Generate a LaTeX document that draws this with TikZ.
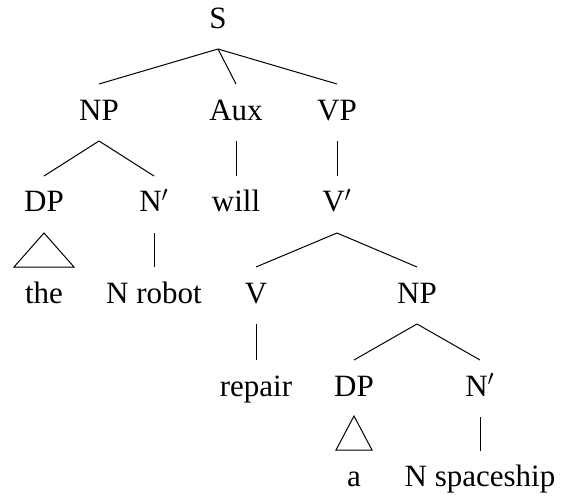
\documentclass[tikz,border=0pt]{standalone}
\newif\ifpala
\IfFileExists{mathpazo.sty}{\IfFileExists{pplr8t.tfm}{\palatrue}{}}{}
\ifpala
  \usepackage[T1]{fontenc}
  \usepackage{mathpazo}
  \def\lblsize{14.5}
\else
  \usepackage{fontspec}
  \setmainfont{Liberation Serif}
  \def\lblsize{15.5}
\fi
\tikzset{
  lbl/.style={anchor=base, inner sep=0pt, font=\fontsize{\lblsize}{17}\selectfont},
  edge/.style={line width=0.5pt},
  roof/.style={line width=0.5pt, line join=miter}
}
\begin{document}
\begin{tikzpicture}[x=0.5pt,y=-0.5pt]
\useasboundingbox (0,0) rectangle (564,498);
% row 1
\node[lbl] (S) at (218,28) {S};
% row 2
\node[lbl] (NP1) at (99,120) {NP};
\node[lbl] (Aux) at (236,120) {Aux};
\node[lbl] (VP) at (337,120) {VP};
% row 3
\node[lbl] (DP1) at (44,212) {DP};
\node[lbl] (Nb1) at (154,212) {N$'$};
\node[lbl] (will) at (236,212) {will};
\node[lbl] (Vb) at (337,212) {V$'$};
% row 4
\node[lbl] (the) at (44,303) {the};
\node[lbl] (Nrobot) at (154,303) {N robot};
\node[lbl] (V) at (256,303) {V};
\node[lbl] (NP2) at (417,303) {NP};
% row 5
\node[lbl] (repair) at (256,396) {repair};
\node[lbl] (DP2) at (354,396) {DP};
\node[lbl] (Nb2) at (480,396) {N$'$};
% row 6
\node[lbl] (a) at (354,487) {a};
\node[lbl] (Nspace) at (480,487) {N spaceship};
% edges
\foreach \p/\c in {S/NP1, S/Aux, S/VP, NP1/DP1, NP1/Nb1, Aux/will, VP/Vb,
                   Nb1/Nrobot, Vb/V, Vb/NP2, V/repair, NP2/DP2, NP2/Nb2, Nb2/Nspace}
  \draw[edge] ([yshift=-10.5pt]\p.base) -- ([yshift=18pt]\c.base);
% roofs
\draw[roof] ([yshift=-10.5pt]DP1.base) -- ++(-15pt,-17pt) -- ++(30pt,0pt) -- cycle;
\draw[roof] ([yshift=-10pt]DP2.base) -- ++(-9pt,-17pt) -- ++(18pt,0pt) -- cycle;
\end{tikzpicture}
\end{document}
